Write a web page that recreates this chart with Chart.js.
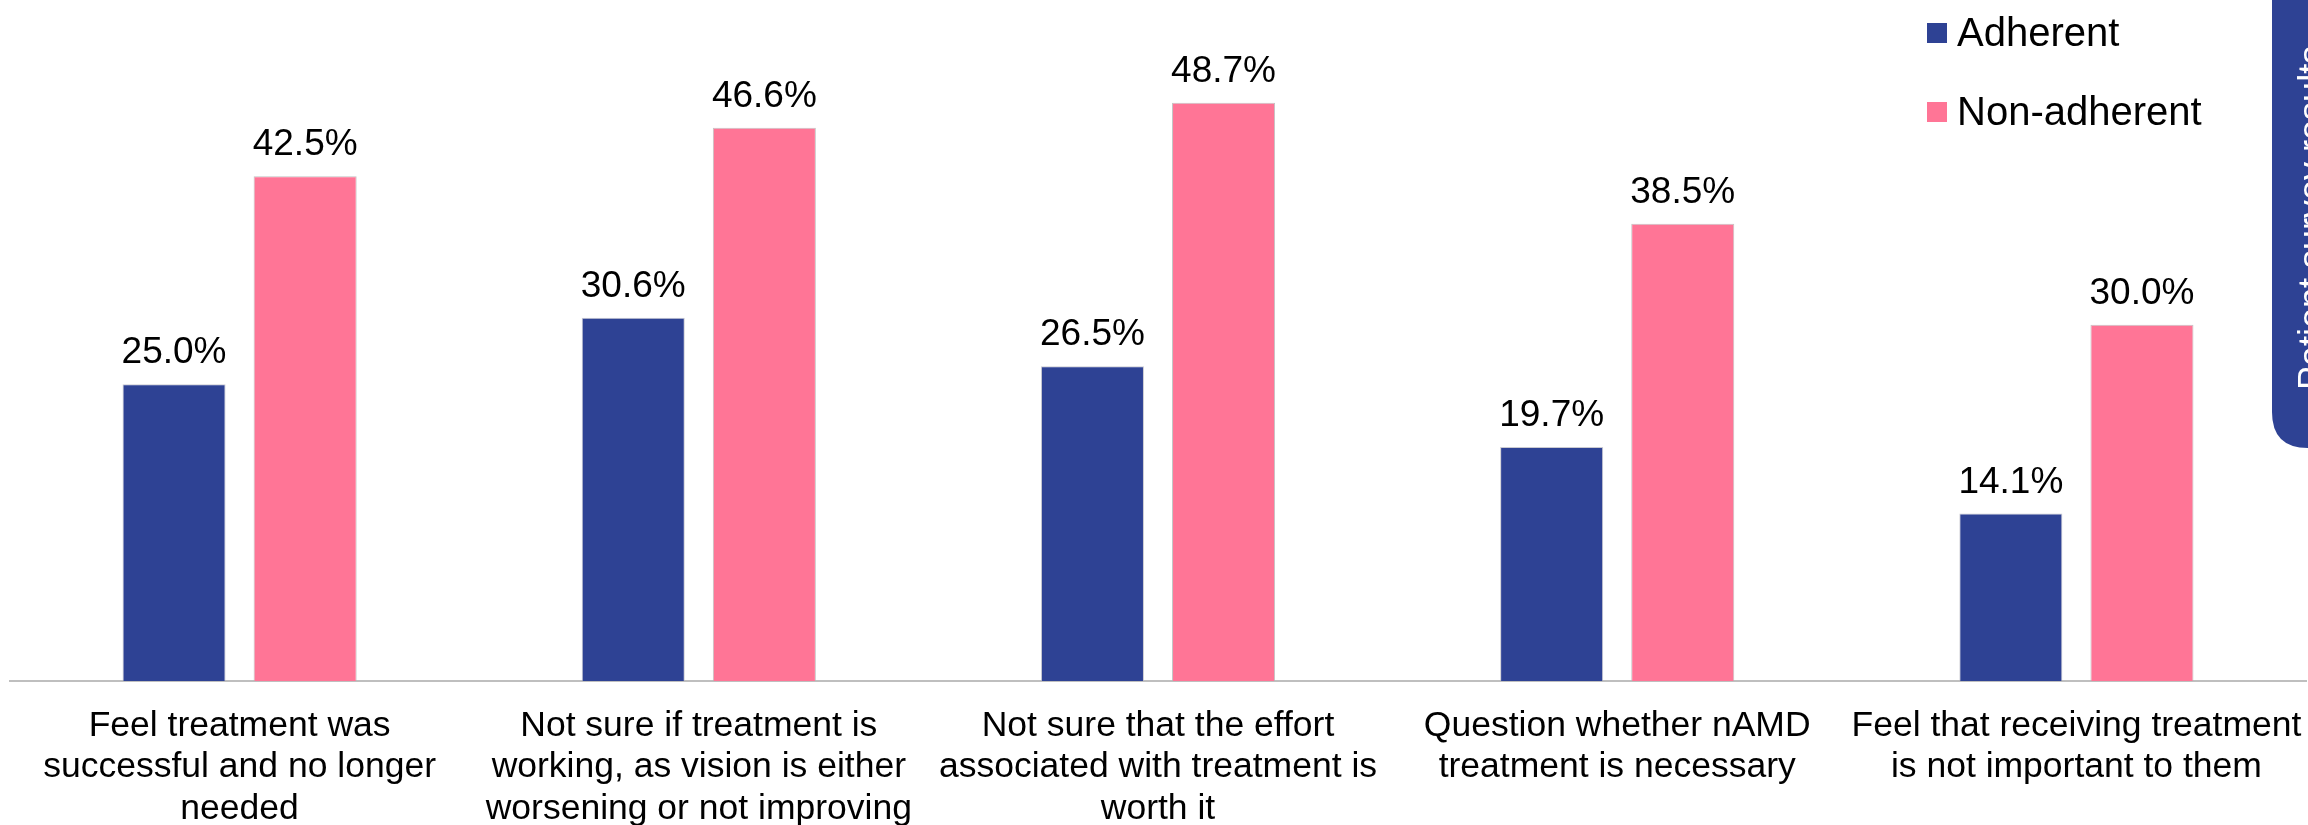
<!DOCTYPE html>
<html>
<head>
<meta charset="utf-8">
<title>Reasons for non-adherence</title>
<script src="https://cdn.jsdelivr.net/npm/chart.js@4/dist/chart.umd.min.js"></script>
<style>
  html, body { margin: 0; padding: 0; background: #fff; }
  #wrap { width: 2308px; height: 825px; position: relative; }
</style>
</head>
<body>
<div id="wrap"><canvas id="chart"></canvas></div>
<script>
const categories = [
    ['Feel treatment was', 'successful and no longer', 'needed'],
    ['Not sure if treatment is', 'working, as vision is either', 'worsening or not improving'],
    ['Not sure that the effort', 'associated with treatment is', 'worth it'],
    ['Question whether nAMD', 'treatment is necessary'],
    ['Feel that receiving treatment', 'is not important to them']
];
const adherent = [25.0, 30.6, 26.5, 19.7, 14.1];
const nonAdherent = [42.5, 46.6, 48.7, 38.5, 30.0];
const seriesNames = ['Adherent', 'Non-adherent'];
const tabText = 'Patient survey results';

const BLUE = '#2E4294';
const PINK = '#FF7596';
const FONT = "'Liberation Sans', Arial, sans-serif";

// value labels above each bar
const valueLabels = {
    id: 'valueLabels',
    afterDatasetsDraw(chart) {
        const ctx = chart.ctx;
        ctx.save();
        ctx.font = '37px ' + FONT;
        ctx.fillStyle = '#000';
        ctx.textAlign = 'center';
        ctx.textBaseline = 'alphabetic';
        chart.data.datasets.forEach((ds, i) => {
            chart.getDatasetMeta(i).data.forEach((bar, j) => {
                ctx.fillText(ds.data[j].toFixed(1) + '%', bar.x, bar.y - 21);
            });
        });
        ctx.restore();
    }
};

// legend in the top right corner, over the plot
const cornerLegend = {
    id: 'cornerLegend',
    afterDraw(chart) {
        const ctx = chart.ctx;
        ctx.save();
        ctx.font = '40px ' + FONT;
        ctx.textBaseline = 'alphabetic';
        ctx.textAlign = 'left';
        chart.data.datasets.forEach((ds, i) => {
            const cy = 33 + i * 79;
            ctx.fillStyle = ds.backgroundColor;
            ctx.fillRect(1927, cy - 10, 20, 20);
            ctx.fillStyle = '#000';
            ctx.fillText(ds.label, 1957, cy + 13);
        });
        ctx.restore();
    }
};

// blue side tab at the right edge
const sideTab = {
    id: 'sideTab',
    afterDraw(chart) {
        const ctx = chart.ctx;
        const x = 2272, bottom = 448, r = 36;
        ctx.save();
        ctx.fillStyle = BLUE;
        ctx.beginPath();
        ctx.moveTo(x, -10);
        ctx.lineTo(x, bottom - r);
        ctx.quadraticCurveTo(x, bottom, x + r, bottom);
        ctx.lineTo(2340, bottom);
        ctx.lineTo(2340, -10);
        ctx.closePath();
        ctx.fill();
        ctx.translate(2324, 390);
        ctx.rotate(-Math.PI / 2);
        ctx.fillStyle = '#fff';
        ctx.font = '36px ' + FONT;
        ctx.textAlign = 'left';
        ctx.textBaseline = 'alphabetic';
        ctx.fillText(tabText, 0, 0);
        ctx.restore();
    }
};

new Chart(document.getElementById('chart'), {
    type: 'bar',
    data: {
        labels: categories,
        datasets: [
            {
                label: seriesNames[0],
                data: adherent,
                backgroundColor: BLUE,
                borderColor: 'rgba(180,180,190,0.7)',
                borderWidth: 1
            },
            {
                label: seriesNames[1],
                data: nonAdherent,
                backgroundColor: PINK,
                borderColor: 'rgba(180,180,180,0.8)',
                borderWidth: 1
            }
        ]
    },
    options: {
        responsive: true,
        maintainAspectRatio: false,
        animation: false,
        layout: { padding: { top: 16, left: 10, right: 2, bottom: 0 } },
        plugins: {
            legend: { display: false },
            tooltip: { enabled: false }
        },
        datasets: {
            bar: { categoryPercentage: 0.571, barPercentage: 0.786 }
        },
        scales: {
            x: {
                grid: { display: false, drawTicks: false },
                border: { display: true, color: '#bfbfbf', width: 2 },
                ticks: {
                    color: '#000',
                    padding: 24,
                    maxRotation: 0,
                    autoSkip: false,
                    font: { family: FONT, size: 35.5, lineHeight: '41.5px' }
                },
                afterFit: s => {
                    s.height = 144;
                    // labels fit inside the canvas, no extra side padding needed
                    s.paddingLeft = 0;
                    s.paddingRight = 0;
                }
            },
            y: {
                display: false,
                min: 0,
                max: 56
            }
        }
    },
    plugins: [valueLabels, cornerLegend, sideTab]
});
</script>
</body>
</html>
